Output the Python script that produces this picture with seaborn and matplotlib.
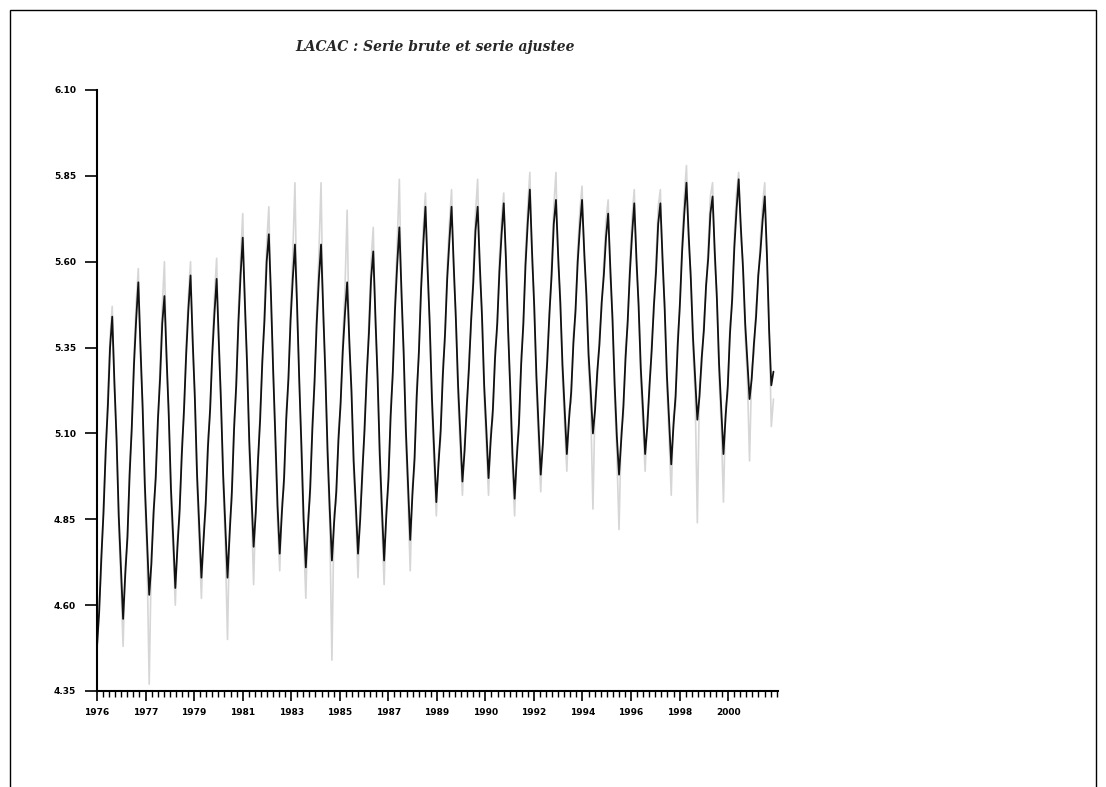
import numpy as np
import pandas as pd
import matplotlib
matplotlib.use("Agg")
import matplotlib.pyplot as plt
from matplotlib.patches import Rectangle
import seaborn as sns

# ---- data (monthly, Jan 1976 - Dec 2001) ----
start_year = 1976

adjusted = [
    4.48, 4.58, 4.74, 4.87, 5.05, 5.18, 5.35, 5.44, 5.25, 5.08, 4.86, 4.71,
    4.56, 4.69, 4.80, 4.98, 5.12, 5.30, 5.43, 5.54, 5.35, 5.17, 4.95, 4.79,
    4.63, 4.72, 4.87, 4.97, 5.14, 5.26, 5.42, 5.50, 5.32, 5.15, 4.94, 4.80,
    4.65, 4.77, 4.88, 5.04, 5.17, 5.33, 5.46, 5.56, 5.37, 5.20, 4.98, 4.83,
    4.68, 4.79, 4.90, 5.06, 5.17, 5.33, 5.45, 5.55, 5.37, 5.19, 4.98, 4.83,
    4.68, 4.81, 4.93, 5.11, 5.24, 5.42, 5.56, 5.67, 5.48, 5.30, 5.08, 4.92,
    4.77, 4.87, 5.02, 5.14, 5.31, 5.43, 5.60, 5.68, 5.50, 5.28, 5.09, 4.89,
    4.75, 4.87, 4.97, 5.14, 5.26, 5.43, 5.55, 5.65, 5.47, 5.25, 5.06, 4.85,
    4.71, 4.83, 4.94, 5.11, 5.25, 5.42, 5.55, 5.65, 5.46, 5.27, 5.05, 4.88,
    4.73, 4.84, 4.93, 5.08, 5.19, 5.34, 5.45, 5.54, 5.37, 5.22, 5.02, 4.89,
    4.75, 4.85, 4.99, 5.11, 5.27, 5.39, 5.55, 5.63, 5.44, 5.26, 5.04, 4.88,
    4.73, 4.86, 4.97, 5.15, 5.28, 5.46, 5.59, 5.70, 5.51, 5.33, 5.11, 4.95,
    4.79, 4.92, 5.03, 5.21, 5.34, 5.52, 5.65, 5.76, 5.58, 5.41, 5.20, 5.05,
    4.90, 5.01, 5.11, 5.27, 5.39, 5.55, 5.66, 5.76, 5.59, 5.43, 5.24, 5.10,
    4.96, 5.05, 5.18, 5.29, 5.43, 5.54, 5.69, 5.76, 5.59, 5.44, 5.24, 5.11,
    4.97, 5.08, 5.17, 5.32, 5.42, 5.57, 5.68, 5.77, 5.61, 5.40, 5.23, 5.04,
    4.91, 5.03, 5.13, 5.30, 5.42, 5.59, 5.71, 5.81, 5.63, 5.47, 5.27, 5.12,
    4.98, 5.07, 5.20, 5.31, 5.45, 5.56, 5.71, 5.78, 5.62, 5.48, 5.30, 5.17,
    5.04, 5.14, 5.22, 5.36, 5.46, 5.60, 5.70, 5.78, 5.63, 5.50, 5.33, 5.22,
    5.10, 5.17, 5.28, 5.36, 5.48, 5.56, 5.67, 5.74, 5.58, 5.43, 5.24, 5.09,
    4.98, 5.08, 5.18, 5.32, 5.43, 5.57, 5.68, 5.77, 5.61, 5.47, 5.29, 5.17,
    5.04, 5.12, 5.24, 5.34, 5.47, 5.57, 5.71, 5.77, 5.61, 5.46, 5.27, 5.14,
    5.01, 5.12, 5.21, 5.36, 5.48, 5.63, 5.74, 5.83, 5.68, 5.55, 5.38, 5.26,
    5.14, 5.21, 5.32, 5.40, 5.53, 5.61, 5.74, 5.79, 5.63, 5.49, 5.30, 5.17,
    5.04, 5.15, 5.24, 5.39, 5.49, 5.64, 5.75, 5.84, 5.70, 5.58, 5.42, 5.31,
    5.20, 5.26, 5.36, 5.44, 5.56, 5.63, 5.72, 5.79, 5.62, 5.40, 5.24, 5.28,
]

raw = [
    4.46, 4.60, 4.71, 4.90, 5.03, 5.22, 5.38, 5.47, 5.23, 5.10, 4.83, 4.66,
    4.48, 4.72, 4.78, 5.01, 5.10, 5.33, 5.48, 5.58, 5.32, 5.19, 4.91, 4.74,
    4.37, 4.75, 4.84, 5.00, 5.12, 5.30, 5.47, 5.60, 5.30, 5.18, 4.90, 4.76,
    4.60, 4.80, 4.85, 5.07, 5.15, 5.36, 5.50, 5.60, 5.34, 5.22, 4.95, 4.78,
    4.62, 4.82, 4.87, 5.09, 5.15, 5.36, 5.50, 5.61, 5.34, 5.21, 4.95, 4.77,
    4.50, 4.84, 4.90, 5.14, 5.22, 5.46, 5.61, 5.74, 5.45, 5.32, 5.04, 4.88,
    4.66, 4.90, 4.99, 5.17, 5.29, 5.47, 5.65, 5.76, 5.47, 5.30, 5.05, 4.84,
    4.70, 4.90, 4.94, 5.17, 5.24, 5.47, 5.62, 5.83, 5.44, 5.27, 5.02, 4.80,
    4.62, 4.86, 4.91, 5.14, 5.23, 5.46, 5.62, 5.83, 5.43, 5.29, 5.01, 4.84,
    4.44, 4.87, 4.90, 5.11, 5.17, 5.38, 5.52, 5.75, 5.34, 5.24, 4.98, 4.85,
    4.68, 4.88, 4.96, 5.14, 5.25, 5.43, 5.60, 5.70, 5.41, 5.28, 5.00, 4.83,
    4.66, 4.89, 4.94, 5.18, 5.26, 5.50, 5.65, 5.84, 5.48, 5.35, 5.07, 4.90,
    4.70, 4.95, 5.00, 5.24, 5.32, 5.56, 5.70, 5.80, 5.55, 5.43, 5.16, 5.00,
    4.86, 5.04, 5.08, 5.30, 5.37, 5.59, 5.71, 5.81, 5.56, 5.45, 5.20, 5.05,
    4.92, 5.08, 5.15, 5.32, 5.41, 5.58, 5.74, 5.84, 5.56, 5.46, 5.20, 5.06,
    4.92, 5.11, 5.14, 5.35, 5.40, 5.61, 5.73, 5.80, 5.58, 5.42, 5.19, 4.99,
    4.86, 5.06, 5.10, 5.33, 5.40, 5.63, 5.76, 5.86, 5.60, 5.49, 5.23, 5.07,
    4.93, 5.10, 5.17, 5.34, 5.43, 5.60, 5.76, 5.86, 5.59, 5.50, 5.26, 5.12,
    4.99, 5.17, 5.19, 5.39, 5.44, 5.64, 5.75, 5.82, 5.60, 5.52, 5.29, 5.17,
    4.88, 5.20, 5.25, 5.39, 5.46, 5.60, 5.72, 5.78, 5.55, 5.45, 5.20, 5.04,
    4.82, 5.11, 5.15, 5.35, 5.41, 5.61, 5.73, 5.81, 5.58, 5.49, 5.25, 5.12,
    4.99, 5.15, 5.21, 5.37, 5.45, 5.61, 5.76, 5.81, 5.58, 5.48, 5.23, 5.09,
    4.92, 5.15, 5.18, 5.39, 5.46, 5.67, 5.79, 5.88, 5.65, 5.57, 5.34, 5.21,
    4.84, 5.24, 5.29, 5.43, 5.51, 5.65, 5.79, 5.83, 5.60, 5.51, 5.26, 5.12,
    4.90, 5.18, 5.21, 5.42, 5.47, 5.68, 5.80, 5.86, 5.67, 5.60, 5.38, 5.26,
    5.02, 5.29, 5.33, 5.47, 5.54, 5.67, 5.77, 5.83, 5.59, 5.42, 5.12, 5.20,
]

y_ticks = [4.35, 4.60, 4.85, 5.10, 5.35, 5.60, 5.85, 6.10]
y_tick_labels = ["4.35", "4.60", "4.85", "5.10", "5.35", "5.60", "5.85", "6.10"]
x_tick_pos = [1976.0, 1977.86, 1979.72, 1981.58, 1983.44, 1985.3, 1987.16,
              1989.02, 1990.88, 1992.74, 1994.6, 1996.46, 1998.32, 2000.18]
x_tick_labels = ["1976", "1977", "1979", "1981", "1983", "1985", "1987",
                 "1989", "1990", "1992", "1994", "1996", "1998", "2000"]
title = "LACAC : Serie brute et serie ajustee"

t = start_year + np.arange(len(adjusted)) / 12.0
df = pd.DataFrame({"t": t, "raw": raw, "adjusted": adjusted})

sns.set_style("white")
plt.rcParams["font.family"] = ["DejaVu Sans"]

fig = plt.figure(figsize=(11.06, 7.87), dpi=100)
ax = fig.add_axes([97 / 1106, 96 / 787, (778 - 97) / 1106, (691 - 90) / 787])

sns.lineplot(data=df, x="t", y="raw", ax=ax, color="#d6d6d6", lw=1.2)
sns.lineplot(data=df, x="t", y="adjusted", ax=ax, color="#111111", lw=1.3)

ax.set_xlim(1976.0, 2002.09)
ax.set_ylim(4.35, 6.10)
ax.set_xlabel("")
ax.set_ylabel("")

for s in ["top", "right"]:
    ax.spines[s].set_visible(False)
for s in ["left", "bottom"]:
    ax.spines[s].set_color("black")
    ax.spines[s].set_linewidth(1.5)

ax.set_yticks(y_ticks)
ax.set_yticklabels(y_tick_labels, fontsize=6.5, fontweight="bold")
ax.set_xticks(x_tick_pos)
ax.set_xticklabels(x_tick_labels, fontsize=6.5, fontweight="bold")
minor = []
for i in range(len(x_tick_pos) - 1):
    step = (x_tick_pos[i + 1] - x_tick_pos[i]) / 8
    for k in range(1, 8):
        minor.append(x_tick_pos[i] + k * step)
last = x_tick_pos[-1]
step = (x_tick_pos[1] - x_tick_pos[0]) / 8
while last + step <= 2002.1:
    last += step
    minor.append(last)
ax.set_xticks(minor, minor=True)
ax.tick_params(axis="y", which="major", left=True, direction="out", length=9,
               width=1.2, pad=6, colors="black")
ax.tick_params(axis="x", which="major", bottom=True, direction="out", length=7,
               width=1.2, pad=5, colors="black")
ax.tick_params(axis="x", which="minor", bottom=True, direction="out", length=4,
               width=1.0, colors="black")
ax.grid(False)

fig.text(435 / 1106, 1 - 47 / 787, title, ha="center", va="center",
         fontsize=10, style="italic", fontweight="bold", family="DejaVu Serif")

fig.add_artist(Rectangle((10 / 1106, -0.05), (1096 - 10) / 1106, 1.05 - 10 / 787,
                         transform=fig.transFigure, fill=False, edgecolor="black", lw=1.0))

fig.savefig("out.png", dpi=100)
